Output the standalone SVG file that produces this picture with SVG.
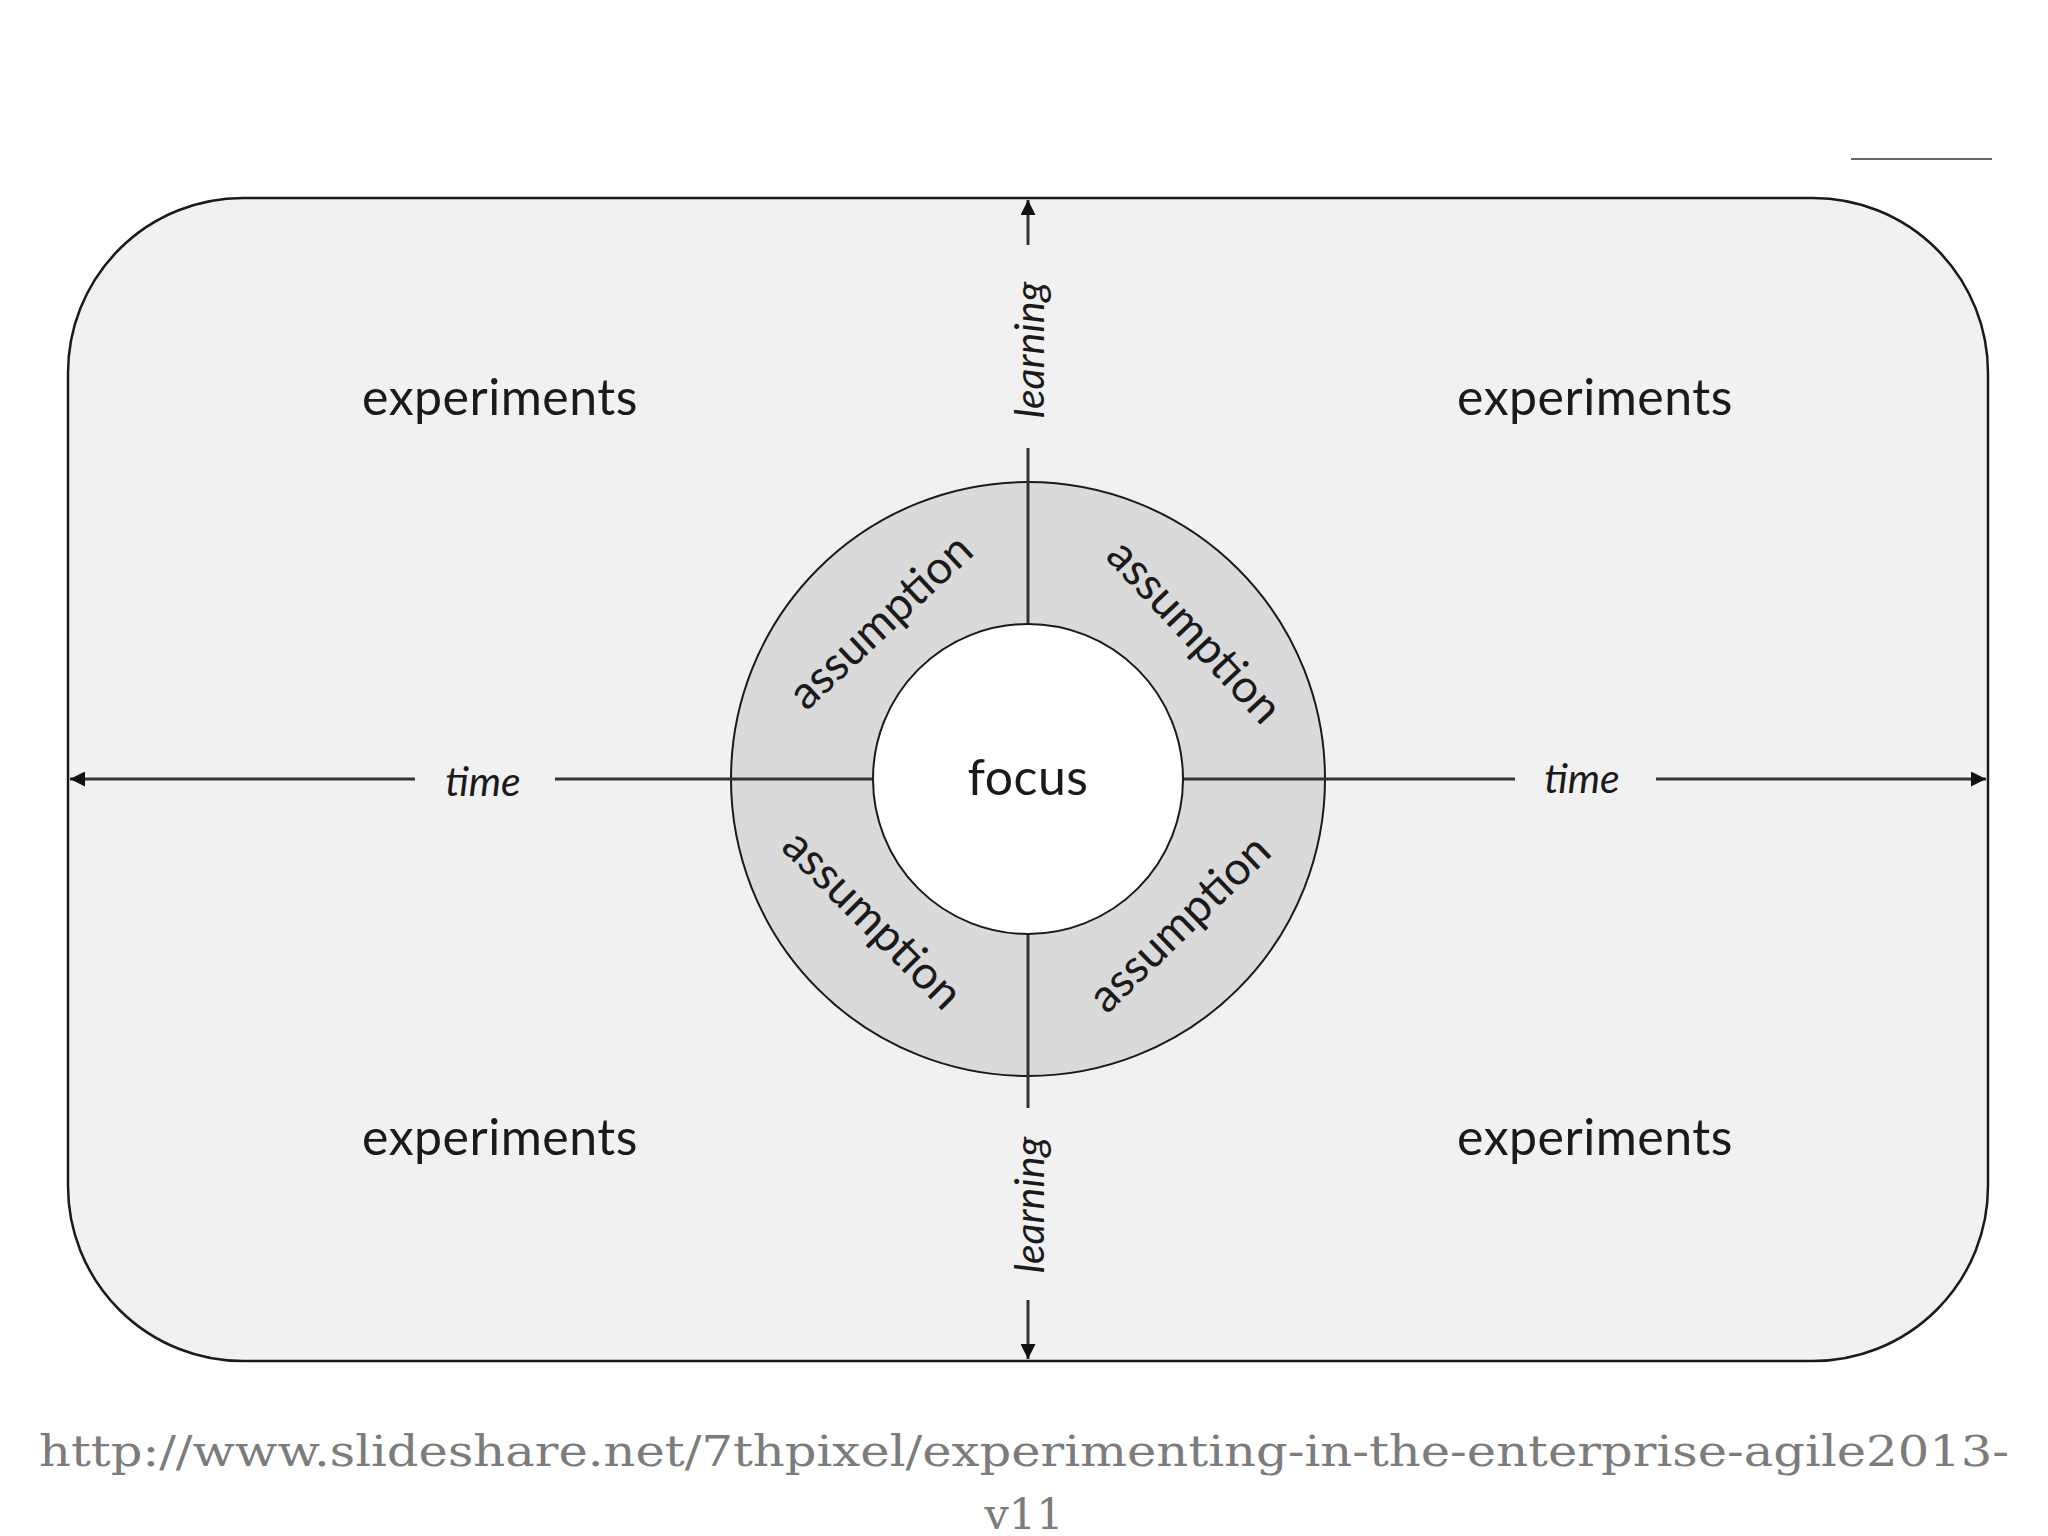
<svg xmlns="http://www.w3.org/2000/svg" width="2048" height="1536" viewBox="0 0 2048 1536">
  <defs>
    <style>
      .lbl { font-family: Lato, "Open Sans", sans-serif; fill: #1a1a1a; }
      .exp { font-size: 50px; text-anchor: middle; dominant-baseline: central; letter-spacing: 0.5px; }
      .asm { font-size: 46px; text-anchor: middle; dominant-baseline: central; }
      .ax { font-size: 41px; font-style: italic; text-anchor: middle; dominant-baseline: central; }
      .axis { stroke: #333; stroke-width: 3; fill: none; }
      .cap { font-family: "DejaVu Serif", "Liberation Serif", serif; font-size: 43px; fill: #7c7c7c; text-anchor: middle; }
    </style>
    <marker id="arr" viewBox="0 0 10 10" refX="10" refY="5" markerWidth="5" markerHeight="5" orient="auto" markerUnits="strokeWidth">
      <path d="M0,0 L10,5 L0,10 z" fill="#111"/>
    </marker>
  </defs>
  <rect width="2048" height="1536" fill="#ffffff"/>
  <line x1="1851" y1="159" x2="1992" y2="159" stroke="#666" stroke-width="2"/>

  <g id="frame">
    <rect x="68" y="198" width="1920" height="1163" rx="175" ry="175" fill="#f1f1f1" stroke="#1a1a1a" stroke-width="2.5"/>
  </g>

  <g id="ring">
    <circle cx="1028" cy="779" r="297" fill="#dadada" stroke="#1a1a1a" stroke-width="2"/>
  </g>

  <g id="connectors">
    <line class="axis" x1="1028" y1="482" x2="1028" y2="624"/>
    <line class="axis" x1="1028" y1="934" x2="1028" y2="1076"/>
    <line class="axis" x1="731" y1="779" x2="873" y2="779"/>
    <line class="axis" x1="1183" y1="779" x2="1325" y2="779"/>
    <line class="axis" x1="1028" y1="482" x2="1028" y2="448"/>
    <line class="axis" x1="1028" y1="245" x2="1028" y2="200" marker-end="url(#arr)"/>
    <line class="axis" x1="1028" y1="1076" x2="1028" y2="1108"/>
    <line class="axis" x1="1028" y1="1300" x2="1028" y2="1359" marker-end="url(#arr)"/>
    <line class="axis" x1="731" y1="779" x2="555" y2="779"/>
    <line class="axis" x1="415" y1="779" x2="70" y2="779" marker-end="url(#arr)"/>
    <line class="axis" x1="1325" y1="779" x2="1515" y2="779"/>
    <line class="axis" x1="1656" y1="779" x2="1986" y2="779" marker-end="url(#arr)"/>
  </g>

  <g id="focus">
    <circle cx="1028" cy="779" r="155" fill="#ffffff" stroke="#1a1a1a" stroke-width="2"/>
    <text class="lbl exp" x="1028" y="776">focus</text>
  </g>

  <g id="assumption-tl"><text class="lbl asm" transform="translate(879,620) rotate(-43)">assumption</text></g>
  <g id="assumption-tr"><text class="lbl asm" transform="translate(1196,630) rotate(47)">assumption</text></g>
  <g id="assumption-bl"><text class="lbl asm" transform="translate(874,918) rotate(45)">assumption</text></g>
  <g id="assumption-br"><text class="lbl asm" transform="translate(1178,922) rotate(-44)">assumption</text></g>

  <g id="experiments-tl"><text class="lbl exp" x="500" y="396">experiments</text></g>
  <g id="experiments-tr"><text class="lbl exp" x="1595" y="396">experiments</text></g>
  <g id="experiments-bl"><text class="lbl exp" x="500" y="1136">experiments</text></g>
  <g id="experiments-br"><text class="lbl exp" x="1595" y="1136">experiments</text></g>

  <g id="axis-labels">
    <text class="lbl ax" x="483" y="780">time</text>
    <text class="lbl ax" x="1582" y="777">time</text>
    <text class="lbl ax" transform="translate(1028,350) rotate(-90)">learning</text>
    <text class="lbl ax" transform="translate(1028,1205) rotate(-90)">learning</text>
  </g>

  <g id="caption">
    <text class="cap" x="1024" y="1466" textLength="1970" lengthAdjust="spacingAndGlyphs">http://www.slideshare.net/7thpixel/experimenting-in-the-enterprise-agile2013-</text>
    <text class="cap" x="1024" y="1529">v11</text>
  </g>
</svg>
